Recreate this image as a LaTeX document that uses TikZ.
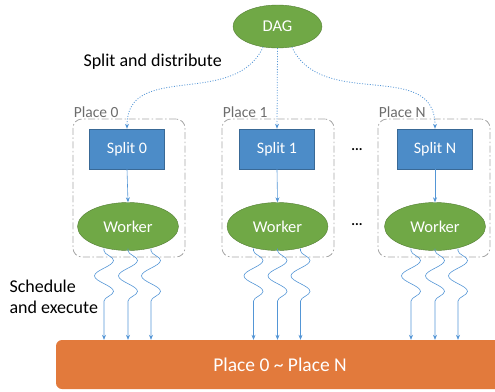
\documentclass[tikz,border=0pt]{standalone}
\usepackage{fontspec}
\setmainfont{Carlito}
\usepackage{xcolor}
\usepackage{tikz}
\usetikzlibrary{calc, positioning, arrows.meta, shapes.geometric, decorations.pathmorphing}
\definecolor{splitblue}{RGB}{76,140,200}
\definecolor{workergreen}{RGB}{112,168,70}
\definecolor{barorange}{RGB}{226,122,60}
\definecolor{linkblue}{RGB}{84,150,214}
\tikzset{
    splitbox/.style={rectangle, draw=splitblue!75!black, fill=splitblue, text=white, minimum width=75pt, minimum height=40pt, font=\fontsize{16}{18}\selectfont},
    worker/.style={ellipse, draw=workergreen!75!black, fill=workergreen, text=white, minimum width=101pt, minimum height=48pt, inner sep=0pt, font=\fontsize{16.5}{18}\selectfont},
    dagnode/.style={ellipse, draw=workergreen!75!black, fill=workergreen, text=white, minimum width=89pt, minimum height=43pt, inner sep=0pt, font=\fontsize{16.5}{18}\selectfont},
    place/.style={rectangle, rounded corners=9pt, draw=gray!70, thick, dash pattern=on 7pt off 2.5pt on 1.5pt off 2.5pt, minimum width=112pt, minimum height=138pt},
    placelabel/.style={anchor=south west, inner sep=1pt, text=gray!85!black, font=\fontsize{15.5}{17}\selectfont},
    bar/.style={rectangle, rounded corners=6pt, fill=barorange, text=white, minimum width=448pt, minimum height=49pt, font=\fontsize{19.5}{22}\selectfont},
    dist/.style={-{Stealth[length=5pt, width=4pt, line width=0pt]}, linkblue, line width=0.8pt, dash pattern=on 1pt off 1.6pt},
    link/.style={-{Stealth[length=5pt, width=4pt]}, linkblue, semithick},
    wave/.style={-{Stealth[length=5pt, width=4pt]}, linkblue, semithick, decorate,
        decoration={snake, amplitude=9.5pt, segment length=31pt, pre length=2pt, post length=24pt}},
    note/.style={align=left, font=\fontsize{18}{21}\selectfont},
    more/.style={font=\bfseries\fontsize{14}{16}\selectfont}
}

\begin{document}
\begin{tikzpicture}[x=1pt, y=-1pt]
    \useasboundingbox (0,0) rectangle (495,391);

    % Places (dash-dot frames)
    \node[place] (p0) at (129,188) {};
    \node[place] (p1) at (278,188) {};
    \node[place] (pN) at (434,188) {};
    \node[placelabel] at (p0.north west) {Place 0};
    \node[placelabel] at (p1.north west) {Place 1};
    \node[placelabel] at (pN.north west) {Place N};

    % DAG and splits
    \node[dagnode] (dag) at (277.5,26.5) {DAG};
    \node[splitbox] (s0) at (127,149) {Split 0};
    \node[splitbox] (s1) at (277,149) {Split 1};
    \node[splitbox] (sN) at (435,149) {Split N};

    % Workers
    \node[worker] (w0) at (128,226.5) {Worker};
    \node[worker] (w1) at (277.5,226.5) {Worker};
    \node[worker] (wN) at (435,226.5) {Worker};

    % Dots between place 1 and place N
    \node[more] at (357,150) {...};
    \node[more] at (357,225) {...};

    % Shared execution layer
    \node[bar] (bar) at (280,364.5) {Place 0 \textasciitilde{} Place N};

    % Split and distribute
    \draw[dist] (dag.235) to[out=-115, in=90, looseness=1.1] (s0.north);
    \draw[dist] (dag.south) -- (s1.north);
    \draw[dist] (dag.305) to[out=-65, in=90, looseness=1.1] (sN.north);

    \foreach \i in {0,1,N} {
        \draw[link] (s\i.south) -- (w\i.north);
        % Schedule and execute
        \foreach \dx in {-24,0,23}
            \draw[wave] ($(w\i.south)+(\dx,-2)$) -- ($(w\i.south |- bar.north)+(\dx,0)$);
    }

    % Side notes
    \node[note, anchor=west] at (6,297) {Schedule\\and execute};
    \node[note, anchor=west] at (80,62) {Split and distribute};
\end{tikzpicture}
\end{document}
